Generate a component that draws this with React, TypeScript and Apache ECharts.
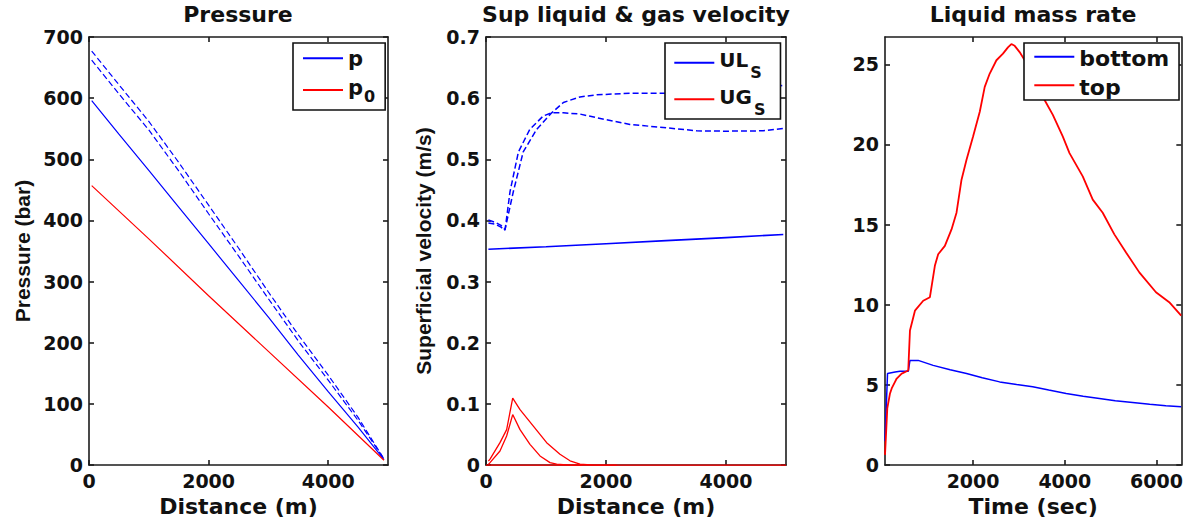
import React, { useEffect, useRef } from 'react';
import * as echarts from 'echarts';

// ---------- Pressure along the line (distance in m, pressure in bar) ----------
const pDist = [45, 500, 1000, 1500, 2000, 2500, 3000, 3500, 4000, 4500, 4933];
const pSolid = [596, 541, 482, 422, 362, 302, 242, 180, 120, 62, 9];
const pDashA = [677, 622, 562, 495, 425, 355, 283, 213, 147, 78, 10];
const pDashB = [662, 607, 548, 481, 411, 342, 272, 203, 139, 73, 10];
const p0Dist = [45, 1000, 2000, 3000, 4000, 4933];
const p0Vals = [457, 370, 277, 186, 95, 8];

// ---------- Superficial liquid / gas velocity (m/s) ----------
const ulDist = [40, 1000, 2000, 3000, 4000, 4955];
const ulVals = [0.353, 0.357, 0.362, 0.367, 0.372, 0.377];
const ulDashADist = [40, 150, 250, 317, 455, 620, 845, 1095, 1290, 1567, 1845, 2400, 2930, 3500, 4000, 4500, 4955];
const ulDashAVals = [0.401, 0.397, 0.392, 0.385, 0.447, 0.512, 0.549, 0.576, 0.593, 0.602, 0.6055, 0.608, 0.608, 0.609, 0.611, 0.615, 0.621];
const ulDashBDist = [40, 150, 250, 317, 400, 540, 730, 955, 1095, 1290, 1567, 1845, 2400, 2955, 3510, 4000, 4620, 4955];
const ulDashBVals = [0.396, 0.394, 0.389, 0.384, 0.447, 0.512, 0.549, 0.571, 0.576, 0.576, 0.574, 0.568, 0.557, 0.552, 0.5466, 0.546, 0.5466, 0.5505];
const ugDist = [0, 5000];
const ugVals = [0, 0];
const ugPeakADist = [40, 67, 233, 344, 445, 567, 789, 1011, 1233, 1400, 1567, 1800, 2180];
const ugPeakAVals = [0.0065, 0.0097, 0.0367, 0.058, 0.1096, 0.0907, 0.0637, 0.0367, 0.0178, 0.007, 0.0016, 0, 0];
const ugPeakBDist = [40, 67, 233, 344, 445, 567, 733, 900, 1067, 1178, 1400, 1600];
const ugPeakBVals = [0.001, 0.004, 0.023, 0.0475, 0.0826, 0.058, 0.034, 0.015, 0.004, 0.0016, 0, 0];

// ---------- Liquid mass rate over time (s) ----------
const topTime = [80, 130, 189, 226, 298, 335, 443, 478, 552, 587, 624, 733, 913, 1059, 1167, 1239, 1385, 1530, 1639, 1748, 1857, 2000, 2146, 2254, 2363, 2509, 2652, 2760, 2835, 2907, 3015, 3200, 3400, 3559, 3739, 3957, 4102, 4391, 4609, 4826, 5080, 5335, 5624, 5987, 6276, 6537];
const topVals = [0.64, 3.54, 4.47, 4.78, 5.19, 5.4, 5.71, 5.75, 5.85, 5.91, 8.4, 9.63, 10.25, 10.47, 12.43, 13.15, 13.67, 14.7, 15.74, 17.8, 19.04, 20.49, 22.04, 23.59, 24.42, 25.25, 25.66, 26.05, 26.26, 26.15, 25.76, 24.9, 23.8, 22.77, 21.84, 20.49, 19.46, 18.01, 16.56, 15.74, 14.39, 13.26, 12.02, 10.78, 10.16, 9.32];
const bottomTime = [80, 135, 300, 407, 552, 587, 624, 804, 1130, 1500, 1857, 2200, 2580, 2950, 3300, 3650, 4030, 4400, 4754, 5100, 5478, 5850, 6203, 6537];
const bottomVals = [1.5, 5.71, 5.8, 5.85, 5.85, 5.85, 6.53, 6.53, 6.22, 5.95, 5.71, 5.45, 5.19, 5.02, 4.88, 4.68, 4.47, 4.3, 4.16, 4.02, 3.91, 3.8, 3.7, 3.64];

// ---------- Tick values ----------
const pressureXTicks = [0, 2000, 4000];
const pressureYTicks = [0, 100, 200, 300, 400, 500, 600, 700];
const velocityXTicks = [0, 2000, 4000];
const velocityYTicks = [0, 0.1, 0.2, 0.3, 0.4, 0.5, 0.6, 0.7];
const massXTicks = [2000, 4000, 6000];
const massYTicks = [0, 5, 10, 15, 20, 25];

const FONT = 'DejaVu Sans';
const NAME_FONT = 'Liberation Sans';
const INK = '#111';
const BLUE = '#0000ff';
const RED = '#ff0000';
const axisLineStyle = { color: '#1c1c1c', width: 1.6 };
const plain = (v: number) => String(v);

const zip = (xs: number[], ys: number[]) => xs.map((x, i) => [x, ys[i]]);

function xAxes(grid: number, min: number, max: number, ticks: number[], name: string) {
  const base = {
    type: 'value', gridIndex: grid, min, max,
    splitLine: { show: false },
    axisLine: { show: true, onZero: false, lineStyle: axisLineStyle },
    axisTick: { show: true, inside: true, length: 5, customValues: ticks, lineStyle: axisLineStyle },
  };
  return [
    {
      ...base, position: 'bottom',
      axisLabel: { show: true, customValues: ticks, formatter: plain, margin: 6, fontFamily: FONT, fontWeight: 'bold', fontSize: 19, color: INK },
      name, nameLocation: 'middle', nameGap: 27,
      nameTextStyle: { fontFamily: FONT, fontWeight: 'bold', fontSize: 22, color: INK },
    },
    { ...base, position: 'top', axisLabel: { show: false } },
  ];
}

function yAxes(grid: number, min: number, max: number, ticks: number[], name: string, nameGap: number, nameSize: number) {
  const base = {
    type: 'value', gridIndex: grid, min, max,
    splitLine: { show: false },
    axisLine: { show: true, onZero: false, lineStyle: axisLineStyle },
    axisTick: { show: true, inside: true, length: 5, customValues: ticks, lineStyle: axisLineStyle },
  };
  return [
    {
      ...base, position: 'left',
      axisLabel: { show: true, customValues: ticks, formatter: plain, margin: 6, fontFamily: FONT, fontWeight: 'bold', fontSize: 19, color: INK },
      name, nameLocation: 'middle', nameGap,
      nameTextStyle: { fontFamily: NAME_FONT, fontWeight: 'bold', fontSize: nameSize, color: INK },
    },
    { ...base, position: 'right', axisLabel: { show: false } },
  ];
}

function line(name: string, xi: number, data: number[][], color: string, width: number, dashed = false, clip = true) {
  return {
    name, type: 'line', xAxisIndex: xi, yAxisIndex: xi, data,
    symbol: 'none', showSymbol: false, clip, silent: true,
    itemStyle: { color },
    lineStyle: { color, width, type: dashed ? [6, 3] : 'solid' },
  };
}

// Rich-text token: vertical padding shifts the glyphs inside a fixed line height
const tok = (size: number, lineHeight: number, padding: number[]) => ({
  fontFamily: FONT, fontWeight: 'bold', fontSize: size, lineHeight, padding, color: INK,
});

function legendBox(data: string[], left: number, top: number, padding: number[], gap: number, formatter: (n: string) => string, rich: any) {
  return {
    data, left, top, orient: 'vertical', padding, itemGap: gap,
    itemWidth: 40, itemHeight: 14, selectedMode: false,
    borderColor: '#111', borderWidth: 1.6, backgroundColor: '#fff',
    itemStyle: { opacity: 0 },
    formatter, textStyle: { fontFamily: FONT, fontWeight: 'bold', color: INK, rich },
  };
}

const titleStyle = { fontFamily: FONT, fontWeight: 'bold', fontSize: 22, color: INK };

export default function App() {
  const ref = useRef<HTMLDivElement>(null);

  useEffect(() => {
    if (!ref.current) return;
    const chart = echarts.init(ref.current, null, { renderer: 'svg' });
    chart.setOption({
      animation: false,
      backgroundColor: '#fff',
      title: [
        { text: 'Pressure', left: 238, top: 3, textAlign: 'center', padding: 0, textStyle: titleStyle },
        { text: 'Sup liquid & gas velocity', left: 636, top: 3, textAlign: 'center', padding: 0, textStyle: titleStyle },
        { text: 'Liquid mass rate', left: 1033, top: 3, textAlign: 'center', padding: 0, textStyle: titleStyle },
      ],
      grid: [
        { left: 89, top: 37, width: 299, height: 431 },
        { left: 486, top: 37, width: 300, height: 431 },
        { left: 885, top: 37, width: 297, height: 431 },
      ],
      xAxis: [
        ...xAxes(0, 0, 5000, pressureXTicks, 'Distance (m)'),
        ...xAxes(1, 0, 5000, velocityXTicks, 'Distance (m)'),
        ...xAxes(2, 80, 6540, massXTicks, 'Time (sec)'),
      ],
      yAxis: [
        ...yAxes(0, 0, 700, pressureYTicks, 'Pressure (bar)', 56, 21),
        ...yAxes(1, 0, 0.7, velocityYTicks, 'Superficial velocity (m/s)', 52, 21),
        ...yAxes(2, 0, 26.7, massYTicks, '', 40, 20),
      ],
      legend: [
        legendBox(['p', 'p0'], 293, 43, [0.3, 10, 5, 9], 1.7,
          (n: string) => (n === 'p0' ? '{p|p}{s|0}' : '{p1|p}'),
          { p1: tok(21, 30, [5.25, 0, 3.75, 0]), p: tok(21, 30, [2, 0, 7, 0]), s: tok(16, 30, [13.7, 0, 0.3, 1]) }),
        legendBox(['ULs', 'UGs'], 665, 43, [1.7, 15, 1.7, 8.3], 0.6,
          (n: string) => (n === 'ULs' ? '{m|UL}{s|S}' : '{m|UG}{s|S}'),
          { m: tok(20, 36, [5.5, 0, 10.5, 0]), s: tok(16, 36, [20, 0, 0, 2]) }),
        legendBox(['bottom', 'top'], 1024, 43, [0.8, 9.8, 1.8, 9.3], 2.4,
          (n: string) => `{t|${n}}`,
          { t: tok(22, 26, [4, 0, 0, 0]) }),
      ],
      series: [
        // pressure panel
        line('p', 0, zip(pDist, pSolid), BLUE, 1.2),
        line('p, case 2', 0, zip(pDist, pDashA), BLUE, 1.2, true),
        line('p, case 3', 0, zip(pDist, pDashB), BLUE, 1.2, true),
        line('p0', 0, zip(p0Dist, p0Vals), RED, 1.2),
        // velocity panel
        line('ULs', 2, zip(ulDist, ulVals), BLUE, 1.6),
        line('ULs, case 2', 2, zip(ulDashADist, ulDashAVals), BLUE, 1.5, true),
        line('ULs, case 3', 2, zip(ulDashBDist, ulDashBVals), BLUE, 1.5, true),
        line('UGs', 2, zip(ugDist, ugVals), RED, 1.2, false, false),
        line('UGs, case 2', 2, zip(ugPeakADist, ugPeakAVals), RED, 1.3, false, false),
        line('UGs, case 3', 2, zip(ugPeakBDist, ugPeakBVals), RED, 1.3, false, false),
        // mass rate panel
        line('bottom', 4, zip(bottomTime, bottomVals), BLUE, 1.5),
        line('top', 4, zip(topTime, topVals), RED, 1.8),
      ],
    });
    return () => chart.dispose();
  }, []);

  return (
    <div
      ref={ref}
      style={{ position: 'absolute', left: 0, top: 0, width: 1186, height: 522, background: '#fff' }}
    />
  );
}
